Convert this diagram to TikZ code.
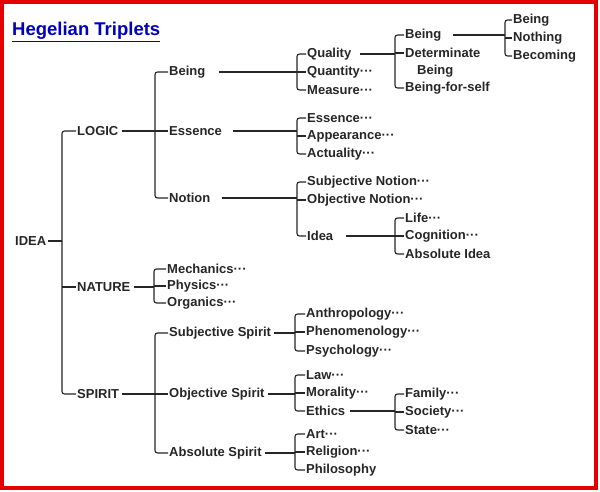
\documentclass[tikz,border=0pt]{standalone}
\usepackage{fontspec}
\setmainfont{Liberation Sans}
\begin{document}
\begin{tikzpicture}[x=1pt,y=-1pt,
  t/.style={anchor=west,inner sep=1pt,font=\fontsize{13}{14}\selectfont\bfseries,text=black!85},
  ln/.style={line width=1.1pt,black!85},
  br/.style={line width=1.1pt,black!85,rounded corners=2.5pt}]
\useasboundingbox (0,0) rectangle (600,491);
\fill[white] (0,0) rectangle (600,491);
\draw[red!90!black,line width=4pt] (2,2) rectangle (596,488);
\node[anchor=west,inner sep=0pt,font=\fontsize{18.5}{20}\selectfont\bfseries,text=blue!75!black] (title) at (12,32) {\underline{Hegelian Triplets}};
\newcommand\hl[3]{\draw[ln] ([xshift=#3]#1.east) -- (#2,0 |- #1.east);}
\newcommand\vbar[4]{\draw[br] (#2.west) -- (#1,0 |- #2.west) -- (#1,0 |- #4.west) -- (#4.west);
  \draw[ln] (#1,0 |- #3.west) -- (#3.west);}
% level 0/1
\node[t] (idea) at (14,241) {IDEA};
\node[t] (logic) at (76,131) {LOGIC};
\node[t] (nature) at (76,287) {NATURE};
\node[t] (spirit) at (76,394) {SPIRIT};
% level 2
\node[t] (being) at (168,72) {Being};
\node[t] (essence) at (168,131) {Essence};
\node[t] (notion) at (168,198) {Notion};
\node[t] (mech) at (166,269) {Mechanics···};
\node[t] (phys) at (166,286) {Physics···};
\node[t] (org) at (166,303) {Organics···};
\node[t] (subsp) at (168,333) {Subjective Spirit};
\node[t] (objsp) at (168,394) {Objective Spirit};
\node[t] (abssp) at (168,453) {Absolute Spirit};
% level 3
\node[t] (qual) at (306,54) {Quality};
\node[t] (quant) at (306,72) {Quantity···};
\node[t] (meas) at (306,90) {Measure···};
\node[t] (ess2) at (306,118) {Essence···};
\node[t] (app) at (306,136) {Appearance···};
\node[t] (act) at (306,154) {Actuality···};
\node[t] (subn) at (306,182) {Subjective Notion···};
\node[t] (objn) at (306,200) {Objective Notion···};
\node[t] (ideaN) at (306,236) {Idea};
\node[t] (anth) at (305,314) {Anthropology···};
\node[t] (phen) at (305,332) {Phenomenology···};
\node[t] (psy) at (305,351) {Psychology···};
\node[t] (law) at (305,375) {Law···};
\node[t] (mor) at (305,393) {Morality···};
\node[t] (eth) at (305,411) {Ethics};
\node[t] (art) at (305,434) {Art···};
\node[t] (rel) at (305,452) {Religion···};
\node[t] (phil) at (305,470) {Philosophy};
% level 4
\node[t] (b1) at (404,35) {Being};
\node[t] (det) at (404,53) {Determinate};
\node[t] (det2) at (416,71) {Being};
\node[t] (bfs) at (404,88) {Being-for-self};
\node[t] (life) at (404,218) {Life···};
\node[t] (cog) at (404,236) {Cognition···};
\node[t] (absi) at (404,254) {Absolute Idea};
\node[t] (fam) at (404,394) {Family···};
\node[t] (soc) at (404,412) {Society···};
\node[t] (sta) at (404,430) {State···};
% level 5
\node[t] (b2) at (512,20) {Being};
\node[t] (noth) at (512,38) {Nothing};
\node[t] (bec) at (512,56) {Becoming};
% connectors
\hl{idea}{62}{1pt}
\draw[br] (logic.west) -- (62,0 |- logic.west) -- (62,0 |- spirit.west) -- (spirit.west);
\draw[ln] (62,0 |- nature.west) -- (nature.west);
\hl{logic}{155}{2pt}\vbar{155}{being}{essence}{notion}
\hl{being}{297}{12pt}\vbar{297}{qual}{quant}{meas}
\hl{essence}{297}{10pt}\vbar{297}{ess2}{app}{act}
\hl{notion}{297}{10pt}\vbar{297}{subn}{objn}{ideaN}
\hl{ideaN}{395}{12pt}\vbar{395}{life}{cog}{absi}
\hl{qual}{395}{8pt}\vbar{395}{b1}{det}{bfs}
\hl{b1}{505}{10pt}\vbar{505}{b2}{noth}{bec}
\hl{nature}{154}{2pt}\vbar{154}{mech}{phys}{org}
\hl{spirit}{155}{2pt}\vbar{155}{subsp}{objsp}{abssp}
\hl{subsp}{295}{2pt}\vbar{295}{anth}{phen}{psy}
\hl{objsp}{295}{2pt}\vbar{295}{law}{mor}{eth}
\hl{abssp}{295}{2pt}\vbar{295}{art}{rel}{phil}
\hl{eth}{395}{4pt}\vbar{395}{fam}{soc}{sta}
\end{tikzpicture}
\end{document}
